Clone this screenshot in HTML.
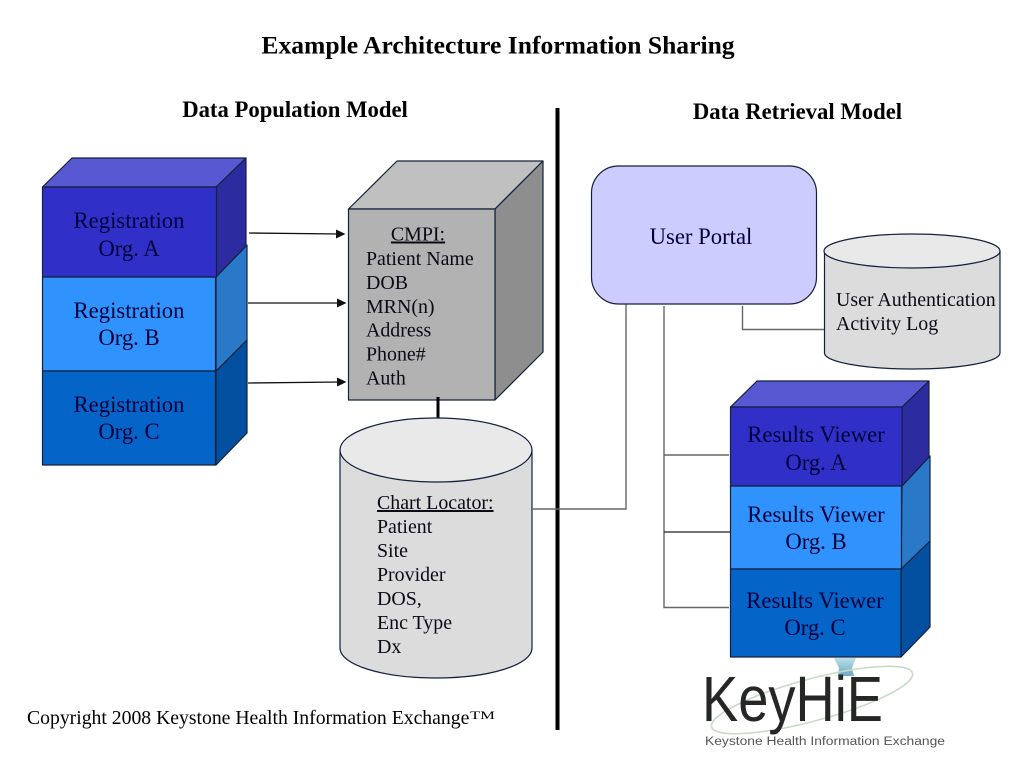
<!DOCTYPE html>
<html><head><meta charset="utf-8"><title>Example Architecture Information Sharing</title>
<style>
html,body{margin:0;padding:0;background:#fff}
svg{display:block}
text{font-family:"Liberation Serif",serif;fill:#000}
.n{fill:#00003a;font-size:22.7px}
.k{fill:#0a0a14;font-size:19.9px}
.h{font-weight:bold;font-size:22.7px}
.f{stroke:#14203c;stroke-width:1.2;stroke-linejoin:round}
.g{stroke:#666;stroke-width:1.4;fill:none}
.a{stroke:#111;stroke-width:1.3;fill:none}
</style></head><body>
<svg width="1024" height="768" viewBox="0 0 1024 768" xmlns="http://www.w3.org/2000/svg">
<defs>
<linearGradient id="sw" x1="0" x2="0" y1="0" y2="1"><stop offset="0" stop-color="#b8e0ea"/><stop offset="1" stop-color="#6fa8c0"/></linearGradient>
</defs>
<text x="498" y="53.5" text-anchor="middle" style="font-weight:bold;font-size:25.6px">Example Architecture Information Sharing</text>
<text x="295" y="117" text-anchor="middle" class="h">Data Population Model</text>
<text x="797.500" y="119" text-anchor="middle" class="h">Data Retrieval Model</text>

<!-- Registration stack -->
<polygon class="f" points="216,371 247,340 247,433 216,465" fill="#0350a0"/>
<polygon class="f" points="216,277 247,245 247,340 216,371" fill="#2a78c8"/>
<polygon class="f" points="216,187 246,158 246,246 216,277" fill="#2c2ca0"/>
<polygon class="f" points="42.5,187 72,158 246,158 216,187" fill="#5858d2"/>
<rect class="f" x="42.5" y="187" width="174" height="90" fill="#3030c8"/>
<rect class="f" x="42.5" y="277" width="173" height="94" fill="#3092fc"/>
<rect class="f" x="42.5" y="371" width="173" height="94" fill="#0464c8"/>
<text class="n" x="129" y="228" text-anchor="middle">Registration</text>
<text class="n" x="129" y="256" text-anchor="middle">Org. A</text>
<text class="n" x="129" y="318" text-anchor="middle">Registration</text>
<text class="n" x="129" y="345" text-anchor="middle">Org. B</text>
<text class="n" x="129" y="412" text-anchor="middle">Registration</text>
<text class="n" x="129" y="439" text-anchor="middle">Org. C</text>

<!-- Arrows -->
<path class="a" d="M249 233L340 234M248 303L341 303M248 383L341 382"/>
<polygon points="345.5,234 336,229.5 336,238.500" fill="#111"/>
<polygon points="346.5,303 337,298.5 337,307.500" fill="#111"/>
<polygon points="346.5,382 337,377.5 337,386.500" fill="#111"/>

<!-- CMPI -->
<polygon class="f" points="348.5,209 397,161 543,161 495,209" fill="#c0c0c0"/>
<polygon class="f" points="495,209 543,161 543,352 495,400" fill="#8e8e8e"/>
<rect class="f" x="348.5" y="209" width="146.5" height="191" fill="#b2b2b2"/>
<text class="k" x="418" y="240.5" text-anchor="middle" text-decoration="underline">CMPI:</text>
<text class="k" x="366" y="265">Patient Name</text>
<text class="k" x="366" y="289">DOB</text>
<text class="k" x="366" y="313">MRN(n)</text>
<text class="k" x="366" y="336.5">Address</text>
<text class="k" x="366" y="360.5">Phone#</text>
<text class="k" x="366" y="384.5">Auth</text>
<line x1="438" y1="397" x2="438" y2="420" stroke="#000" stroke-width="3"/>

<!-- Chart locator cylinder -->
<path class="f" d="M340 450V648C340 665 383 678 436 678S532 665 532 648V450Z" fill="#dcdcdc"/>
<ellipse class="f" cx="436" cy="450" rx="96" ry="32" fill="#e9e9e9"/>
<text class="k" x="377" y="509" text-decoration="underline">Chart Locator:</text>
<text class="k" x="377" y="533">Patient</text>
<text class="k" x="377" y="557">Site</text>
<text class="k" x="377" y="581">Provider</text>
<text class="k" x="377" y="605">DOS,</text>
<text class="k" x="377" y="629">Enc Type</text>
<text class="k" x="377" y="653">Dx</text>

<!-- Divider -->
<rect x="555.5" y="108" width="4" height="622" fill="#000"/>

<!-- Connectors -->
<path class="g" d="M626 304V509H532"/>
<path class="g" d="M664 306V607.5H729M664 455H729"/>
<path d="M664 532H730" stroke="#222" stroke-width="1.3" fill="none"/>
<path class="g" d="M742.5 306V329.5H824"/>

<!-- User portal -->
<rect x="591.5" y="166" width="225" height="138" rx="27" ry="27" fill="#ccccff" stroke="#14203c" stroke-width="1.2"/>
<text class="n" x="701" y="244" text-anchor="middle">User Portal</text>

<!-- Auth cylinder -->
<path class="f" d="M824.5 251V353C824.500 362 864 369 912 369S1000 362 1000 353V251Z" fill="#dcdcdc"/>
<ellipse class="f" cx="912" cy="251" rx="88" ry="17" fill="#e9e9e9"/>
<text class="k" x="836" y="306">User Authentication</text>
<text class="k" x="836" y="330">Activity Log</text>

<!-- Results stack -->
<polygon class="f" points="901,569 930,541 930,627 901,657" fill="#0350a0"/>
<polygon class="f" points="902,486 930,456 930,541 901,569" fill="#2a78c8"/>
<polygon class="f" points="902,407 929,381 929,457 902,486" fill="#2c2ca0"/>
<polygon class="f" points="730.500,407 757,381 929,381 902,407" fill="#5858d2"/>
<rect class="f" x="730.500" y="407" width="171.500" height="79" fill="#3030c8"/>
<rect class="f" x="730.500" y="486" width="171" height="83" fill="#3092fc"/>
<rect class="f" x="730.500" y="569" width="170.500" height="88" fill="#0464c8"/>
<text class="n" x="816" y="442" text-anchor="middle">Results Viewer</text>
<text class="n" x="816" y="470" text-anchor="middle">Org. A</text>
<text class="n" x="816" y="522" text-anchor="middle">Results Viewer</text>
<text class="n" x="816" y="549" text-anchor="middle">Org. B</text>
<text class="n" x="815" y="608" text-anchor="middle">Results Viewer</text>
<text class="n" x="815" y="635" text-anchor="middle">Org. C</text>

<!-- Logo -->
<polygon points="834,658 856,658 852,668 854,676 838,676 839,668" fill="url(#sw)"/>
<ellipse cx="812" cy="700" rx="104" ry="21" transform="rotate(-15 812 700)" fill="none" stroke="#c8dac8" stroke-width="1.6"/>
<text x="702" y="721" style="font-family:'Liberation Sans',sans-serif;font-size:64px;fill:#262626" textLength="181" lengthAdjust="spacingAndGlyphs">KeyHiE</text>
<text x="705" y="745" style="font-family:'Liberation Sans',sans-serif;font-size:11.5px;fill:#555" textLength="240" lengthAdjust="spacingAndGlyphs">Keystone Health Information Exchange</text>

<!-- Copyright -->
<text x="27" y="724" style="font-size:19.7px">Copyright 2008 Keystone Health Information Exchange</text>
<text x="470" y="719" style="font-size:12px" textLength="25" lengthAdjust="spacingAndGlyphs">TM</text>
</svg>
</body></html>
